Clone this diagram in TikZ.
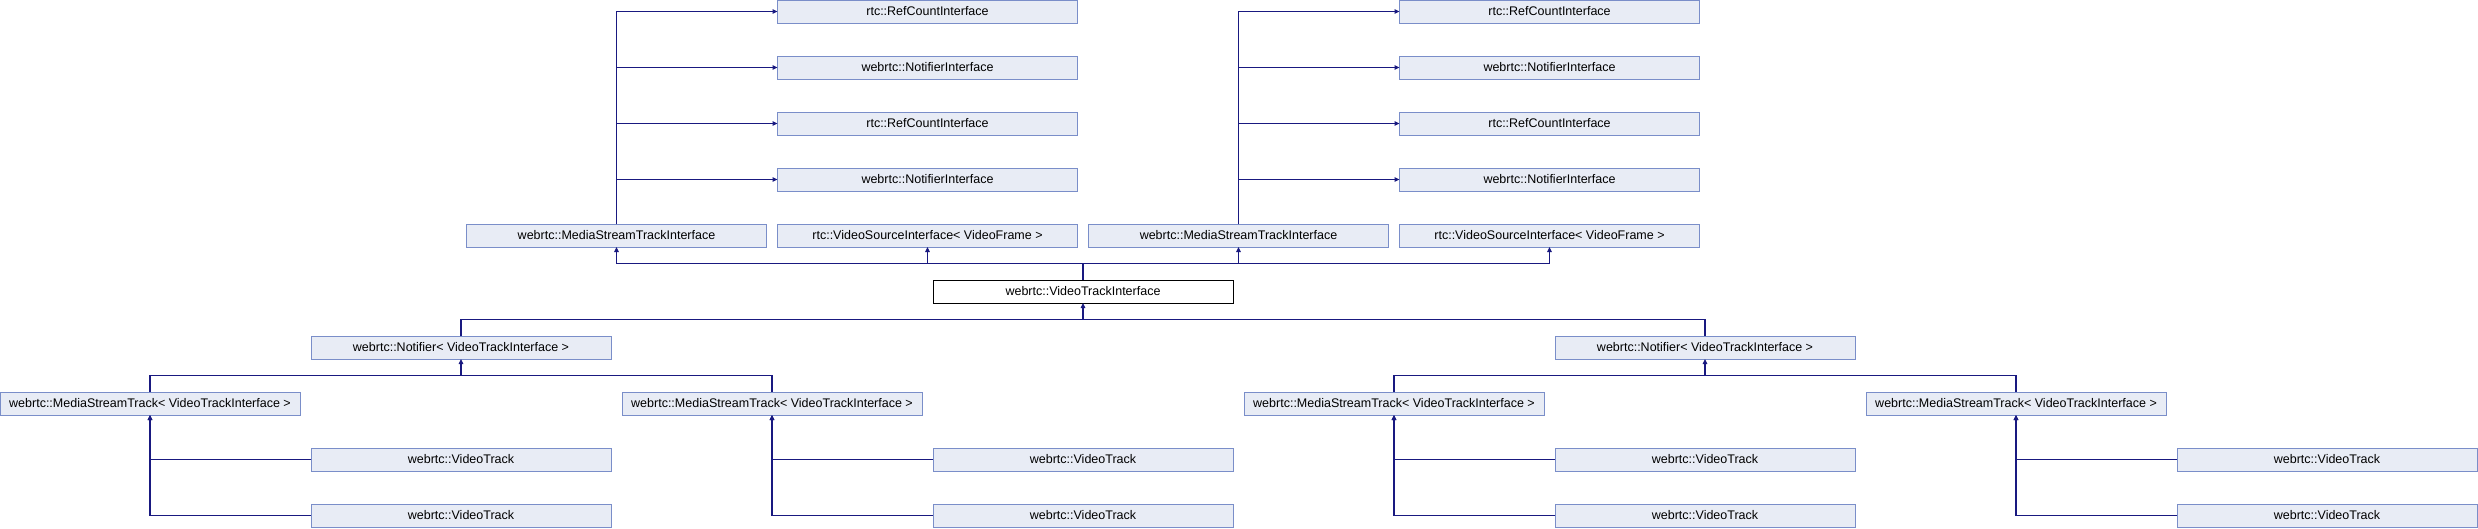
\documentclass[tikz,border=0pt]{standalone}
\usepackage{fontspec}
\setmainfont{Liberation Sans}
\usetikzlibrary{positioning, arrows.meta, calc}

\definecolor{clsfill}{HTML}{E8ECF5}
\definecolor{clsline}{HTML}{7A8EC9}
\definecolor{inhline}{HTML}{191980}

\tikzset{
  cls/.style={draw=clsline, fill=clsfill, line width=1pt, minimum width=300pt, minimum height=23pt,
    inner sep=0pt, outer sep=0pt, font=\fontsize{12.5}{15}\selectfont},
  cur/.style={cls, draw=black, fill=white},
  inh/.style={draw=inhline, line width=1.2pt},
  toBase/.style={inh, -{Triangle[length=5pt,width=4.5pt]}}
}

\begin{document}
\begin{tikzpicture}[x=1pt,y=1pt]
\useasboundingbox (0,0) rectangle (2478,-528);

% the class itself
\node[cur] (vti) at (1083,-291.5) {webrtc::VideoTrackInterface};

% its bases
\node[cls] (msiL) at (616.5,-235.5) {webrtc::MediaStreamTrackInterface};
\node[cls,right=11pt of msiL] (vsL) {rtc::VideoSourceInterface< VideoFrame >};
\node[cls,right=11pt of vsL] (msiR) {webrtc::MediaStreamTrackInterface};
\node[cls,right=11pt of msiR] (vsR) {rtc::VideoSourceInterface< VideoFrame >};

% bases of MediaStreamTrackInterface
\node[cls,above=33pt of vsL] (ni2L) {webrtc::NotifierInterface};
\node[cls,above=33pt of ni2L] (rc2L) {rtc::RefCountInterface};
\node[cls,above=33pt of rc2L] (ni1L) {webrtc::NotifierInterface};
\node[cls,above=33pt of ni1L] (rc1L) {rtc::RefCountInterface};

\node[cls,above=33pt of vsR] (ni2R) {webrtc::NotifierInterface};
\node[cls,above=33pt of ni2R] (rc2R) {rtc::RefCountInterface};
\node[cls,above=33pt of rc2R] (ni1R) {webrtc::NotifierInterface};
\node[cls,above=33pt of ni1R] (rc1R) {rtc::RefCountInterface};

% derived classes
\node[cls] (nfL) at (461,-347.5) {webrtc::Notifier< VideoTrackInterface >};
\node[cls] (nfR) at (1705,-347.5) {webrtc::Notifier< VideoTrackInterface >};

\node[cls] (mst0) at (150,-403.5) {webrtc::MediaStreamTrack< VideoTrackInterface >};
\node[cls] (mst1) at (772,-403.5) {webrtc::MediaStreamTrack< VideoTrackInterface >};
\node[cls] (mst2) at (1394,-403.5) {webrtc::MediaStreamTrack< VideoTrackInterface >};
\node[cls] (mst3) at (2016,-403.5) {webrtc::MediaStreamTrack< VideoTrackInterface >};

\node[cls,below right=33pt and 11pt of mst0] (vt0a) {webrtc::VideoTrack};
\node[cls,below=33pt of vt0a] (vt0b) {webrtc::VideoTrack};
\node[cls,below right=33pt and 11pt of mst1] (vt1a) {webrtc::VideoTrack};
\node[cls,below=33pt of vt1a] (vt1b) {webrtc::VideoTrack};
\node[cls,below right=33pt and 11pt of mst2] (vt2a) {webrtc::VideoTrack};
\node[cls,below=33pt of vt2a] (vt2b) {webrtc::VideoTrack};
\node[cls,below right=33pt and 11pt of mst3] (vt3a) {webrtc::VideoTrack};
\node[cls,below=33pt of vt3a] (vt3b) {webrtc::VideoTrack};

% MediaStreamTrackInterface -> its bases
\draw[toBase] (msiL.north) |- (rc1L.west);
\draw[toBase] (msiL.north) |- (ni1L.west);
\draw[toBase] (msiL.north) |- (rc2L.west);
\draw[toBase] (msiL.north) |- (ni2L.west);
\draw[toBase] (msiR.north) |- (rc1R.west);
\draw[toBase] (msiR.north) |- (ni1R.west);
\draw[toBase] (msiR.north) |- (rc2R.west);
\draw[toBase] (msiR.north) |- (ni2R.west);

% VideoTrackInterface -> its bases
\coordinate (busUp) at ($(vti.north)+(0,16.5)$);
\draw[inh] (vti.north) -- (busUp);
\draw[inh] (busUp -| msiL) -- (busUp -| vsR);
\draw[toBase] (busUp -| msiL) -- (msiL.south);
\draw[toBase] (busUp -| vsL) -- (vsL.south);
\draw[toBase] (busUp -| msiR) -- (msiR.south);
\draw[toBase] (busUp -| vsR) -- (vsR.south);

% Notifiers -> VideoTrackInterface
\coordinate (busDn) at ($(vti.south)+(0,-16.5)$);
\draw[toBase] (busDn) -- (vti.south);
\draw[inh] (nfL.north) |- (busDn -| nfR) -- (nfR.north);

% MediaStreamTracks -> Notifiers
\coordinate (busL) at ($(nfL.south)+(0,-16.5)$);
\draw[toBase] (busL) -- (nfL.south);
\draw[inh] (mst0.north) |- (busL -| mst1) -- (mst1.north);
\coordinate (busR) at ($(nfR.south)+(0,-16.5)$);
\draw[toBase] (busR) -- (nfR.south);
\draw[inh] (mst2.north) |- (busR -| mst3) -- (mst3.north);

% VideoTracks -> MediaStreamTracks
\draw[toBase] (vt0a.west) -| (mst0.south);
\draw[toBase] (vt0b.west) -| (mst0.south);
\draw[toBase] (vt1a.west) -| (mst1.south);
\draw[toBase] (vt1b.west) -| (mst1.south);
\draw[toBase] (vt2a.west) -| (mst2.south);
\draw[toBase] (vt2b.west) -| (mst2.south);
\draw[toBase] (vt3a.west) -| (mst3.south);
\draw[toBase] (vt3b.west) -| (mst3.south);
\end{tikzpicture}
\end{document}
